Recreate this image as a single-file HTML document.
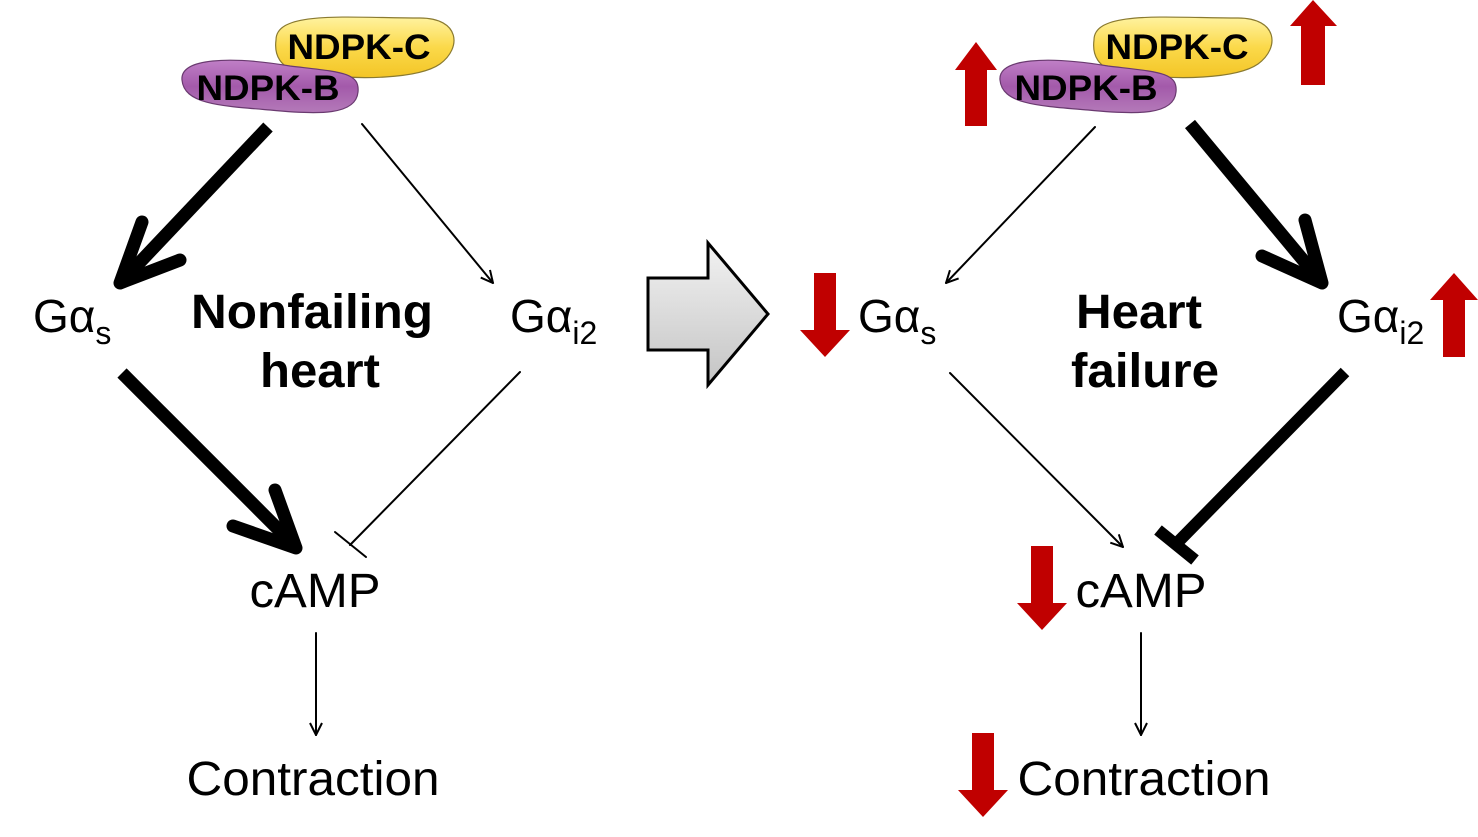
<!DOCTYPE html>
<html><head><meta charset="utf-8"><style>
html,body{margin:0;padding:0;background:#fff;}
svg{display:block;}
text{font-family:"Liberation Sans",Arial,sans-serif;}
</style></head><body>
<svg width="1478" height="837" viewBox="0 0 1478 837" xmlns="http://www.w3.org/2000/svg">
<defs>
<linearGradient id="gy" x1="0" y1="0" x2="0" y2="1"><stop offset="0" stop-color="#fff3a0"/><stop offset="0.5" stop-color="#fbd94a"/><stop offset="1" stop-color="#f3c526"/></linearGradient>
<linearGradient id="gp" x1="0" y1="0" x2="0" y2="1"><stop offset="0" stop-color="#c07fc7"/><stop offset="0.5" stop-color="#a35aaa"/><stop offset="1" stop-color="#b47ab9"/></linearGradient>
<linearGradient id="gg" x1="0" y1="0" x2="0" y2="1"><stop offset="0" stop-color="#f2f2f2"/><stop offset="1" stop-color="#c4c4c4"/></linearGradient>
<marker id="ah" markerWidth="14" markerHeight="14" refX="13" refY="7" orient="auto" markerUnits="userSpaceOnUse"><path d="M1,1 L13,7 L1,13" fill="none" stroke="#000" stroke-width="2"/></marker>
</defs>

<g id="ovals">
<path d="M276,40 C276,10 350,18 420,18 C460,18 462,48 440,64 C420,78 360,82 300,72 C280,68 274,55 276,40Z" fill="url(#gy)" stroke="#8a7a30" stroke-width="1.2"/>
<text x="359" y="59" font-size="35" font-weight="bold" text-anchor="middle" textLength="143" lengthAdjust="spacingAndGlyphs">NDPK-C</text>
<path d="M182,80 C180,58 230,56 290,66 C340,72 360,72 358,92 C356,115 320,115 270,110 C220,106 184,104 182,80Z" fill="url(#gp)" stroke="#6a3a70" stroke-width="1.2"/>
<text x="268" y="100" font-size="35" font-weight="bold" text-anchor="middle" textLength="143" lengthAdjust="spacingAndGlyphs">NDPK-B</text>
</g>
<use href="#ovals" transform="translate(818,0)"/>

<g stroke="#000" fill="none" stroke-linecap="round" stroke-linejoin="round">
<line x1="268" y1="127" x2="124" y2="279" stroke-width="13" stroke-linecap="butt"/>
<polyline points="142,222 120,283 180,260" stroke-width="13"/>
<line x1="122" y1="373" x2="290" y2="541" stroke-width="13" stroke-linecap="butt"/>
<polyline points="275,490 296,548 233,526" stroke-width="13"/>
<line x1="362" y1="124" x2="493" y2="283" stroke-width="2" marker-end="url(#ah)"/>
<line x1="520" y1="372" x2="350" y2="545" stroke-width="2"/>
<line x1="335" y1="532" x2="366" y2="557" stroke-width="2"/>
<line x1="316" y1="633" x2="316" y2="735" stroke-width="2" marker-end="url(#ah)"/>
</g>
<text x="33" y="332" font-size="46">Gα<tspan font-size="32" dy="12">s</tspan></text>
<text x="312" y="328" font-size="48" font-weight="bold" text-anchor="middle" textLength="242" lengthAdjust="spacingAndGlyphs">Nonfailing</text>
<text x="320" y="387" font-size="48" font-weight="bold" text-anchor="middle" textLength="120" lengthAdjust="spacingAndGlyphs">heart</text>
<text x="510" y="332" font-size="46">Gα<tspan font-size="32" dy="12">i2</tspan></text>
<text x="315" y="607" font-size="48" text-anchor="middle" textLength="131" lengthAdjust="spacingAndGlyphs">cAMP</text>
<text x="313" y="795" font-size="48" text-anchor="middle" textLength="253" lengthAdjust="spacingAndGlyphs">Contraction</text>

<path d="M648,278 L708,278 L708,243 L768,314 L708,385 L708,350 L648,350Z" fill="url(#gg)" stroke="#000" stroke-width="3" stroke-linejoin="miter"/>

<g stroke="#000" fill="none" stroke-linecap="round" stroke-linejoin="round">
<line x1="1095" y1="127" x2="946" y2="283" stroke-width="2" marker-end="url(#ah)"/>
<line x1="1190" y1="124" x2="1318" y2="278" stroke-width="13" stroke-linecap="butt"/>
<polyline points="1262,256 1322,283 1305,220" stroke-width="13"/>
<line x1="950" y1="373" x2="1123" y2="547" stroke-width="2" marker-end="url(#ah)"/>
<line x1="1345" y1="372" x2="1178" y2="542" stroke-width="12" stroke-linecap="butt"/>
<line x1="1158" y1="530" x2="1195" y2="560" stroke-width="12" stroke-linecap="butt"/>
<line x1="1141" y1="633" x2="1141" y2="735" stroke-width="2" marker-end="url(#ah)"/>
</g>
<text x="858" y="332" font-size="46">Gα<tspan font-size="32" dy="12">s</tspan></text>
<text x="1139" y="328" font-size="48" font-weight="bold" text-anchor="middle" textLength="126" lengthAdjust="spacingAndGlyphs">Heart</text>
<text x="1145" y="387" font-size="48" font-weight="bold" text-anchor="middle" textLength="148" lengthAdjust="spacingAndGlyphs">failure</text>
<text x="1337" y="332" font-size="46">Gα<tspan font-size="32" dy="12">i2</tspan></text>
<text x="1141" y="607" font-size="48" text-anchor="middle" textLength="131" lengthAdjust="spacingAndGlyphs">cAMP</text>
<text x="1144" y="795" font-size="48" text-anchor="middle" textLength="253" lengthAdjust="spacingAndGlyphs">Contraction</text>

<g fill="#c00000">
<path d="M965,126 L965,70 L955,70 L976,42 L997,70 L987,70 L987,126Z"/>
<path d="M1301,85 L1301,26 L1290,26 L1313,0 L1337,26 L1325,26 L1325,85Z"/>
<path d="M814,273 L814,330 L800,330 L825,357 L850,330 L836,330 L836,273Z"/>
<path d="M1443,357 L1443,300 L1430,300 L1454,273 L1478,300 L1465,300 L1465,357Z"/>
<path d="M1031,546 L1031,603 L1017,603 L1042,630 L1067,603 L1053,603 L1053,546Z"/>
<path d="M972,733 L972,790 L958,790 L983,817 L1008,790 L994,790 L994,733Z"/>
</g>
</svg>
</body></html>
